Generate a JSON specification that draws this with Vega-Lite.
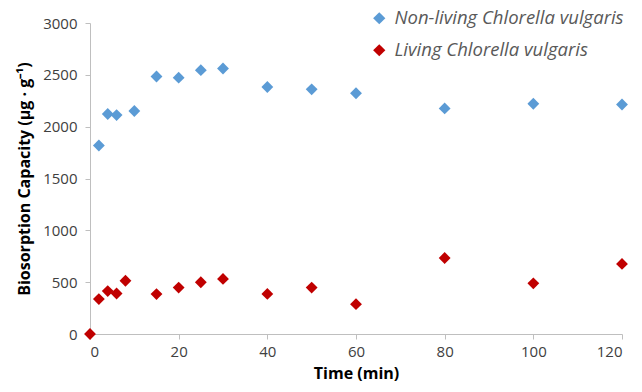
{
  "$schema": "https://vega.github.io/schema/vega-lite/v6.json",
  "width": 532,
  "height": 311,
  "autosize": "none",
  "padding": {"left": 90, "top": 23, "right": 20, "bottom": 58},
  "config": {"view": {"stroke": null}, "font": "Open Sans"},
  "data": {"values": [
    {"t": 2, "v": 1818, "s": "Non-living Chlorella vulgaris"},
    {"t": 4, "v": 2122, "s": "Non-living Chlorella vulgaris"},
    {"t": 6, "v": 2112, "s": "Non-living Chlorella vulgaris"},
    {"t": 10, "v": 2151, "s": "Non-living Chlorella vulgaris"},
    {"t": 15, "v": 2484, "s": "Non-living Chlorella vulgaris"},
    {"t": 20, "v": 2473, "s": "Non-living Chlorella vulgaris"},
    {"t": 25, "v": 2545, "s": "Non-living Chlorella vulgaris"},
    {"t": 30, "v": 2561, "s": "Non-living Chlorella vulgaris"},
    {"t": 40, "v": 2383, "s": "Non-living Chlorella vulgaris"},
    {"t": 50, "v": 2360, "s": "Non-living Chlorella vulgaris"},
    {"t": 60, "v": 2322, "s": "Non-living Chlorella vulgaris"},
    {"t": 80, "v": 2176, "s": "Non-living Chlorella vulgaris"},
    {"t": 100, "v": 2221, "s": "Non-living Chlorella vulgaris"},
    {"t": 120, "v": 2214, "s": "Non-living Chlorella vulgaris"},
    {"t": 0, "v": 0, "s": "Living Chlorella vulgaris"},
    {"t": 2, "v": 337, "s": "Living Chlorella vulgaris"},
    {"t": 4, "v": 414, "s": "Living Chlorella vulgaris"},
    {"t": 6, "v": 391, "s": "Living Chlorella vulgaris"},
    {"t": 8, "v": 514, "s": "Living Chlorella vulgaris"},
    {"t": 15, "v": 385, "s": "Living Chlorella vulgaris"},
    {"t": 20, "v": 448, "s": "Living Chlorella vulgaris"},
    {"t": 25, "v": 499, "s": "Living Chlorella vulgaris"},
    {"t": 30, "v": 531, "s": "Living Chlorella vulgaris"},
    {"t": 40, "v": 387, "s": "Living Chlorella vulgaris"},
    {"t": 50, "v": 448, "s": "Living Chlorella vulgaris"},
    {"t": 60, "v": 288, "s": "Living Chlorella vulgaris"},
    {"t": 80, "v": 733, "s": "Living Chlorella vulgaris"},
    {"t": 100, "v": 489, "s": "Living Chlorella vulgaris"},
    {"t": 120, "v": 676, "s": "Living Chlorella vulgaris"}
  ]},
  "mark": {"type": "point", "shape": "diamond", "filled": true, "opacity": 1, "size": 140},
  "encoding": {
    "x": {
      "field": "t", "type": "quantitative",
      "scale": {"domain": [0, 120], "nice": false, "zero": true},
      "axis": {
        "title": "Time (min)", "values": [0, 20, 40, 60, 80, 100, 120], "format": "d",
        "grid": false, "domainColor": "#BFBFBF", "tickColor": "#BFBFBF", "tickSize": 5,
        "labelFontSize": 15, "labelColor": "#404040", "labelPadding": 5,
        "titleFontSize": 16, "titleFontWeight": "bold", "titleColor": "#000000", "titlePadding": 6
      }
    },
    "y": {
      "field": "v", "type": "quantitative",
      "scale": {"domain": [0, 3000], "nice": false},
      "axis": {
        "title": "Biosorption Capacity (µg · g⁻¹)", "values": [0, 500, 1000, 1500, 2000, 2500, 3000], "format": "d",
        "grid": false, "domainColor": "#BFBFBF", "tickColor": "#BFBFBF", "tickSize": 5,
        "labelFontSize": 15, "labelColor": "#404040", "labelPadding": 8,
        "titleFontSize": 16, "titleFontWeight": "bold", "titleColor": "#000000", "titlePadding": 10
      }
    },
    "color": {
      "field": "s", "type": "nominal",
      "scale": {"domain": ["Non-living Chlorella vulgaris", "Living Chlorella vulgaris"], "range": ["#5B9BD5", "#C00000"]},
      "legend": {
        "title": null, "orient": "none", "legendX": 280, "legendY": -14,
        "labelFontSize": 18.5, "labelFontStyle": "italic", "labelColor": "#595959",
        "symbolType": "diamond", "symbolSize": 150, "symbolOpacity": 1,
        "rowPadding": 13, "labelOffset": 6, "labelLimit": 400
      }
    }
  }
}
